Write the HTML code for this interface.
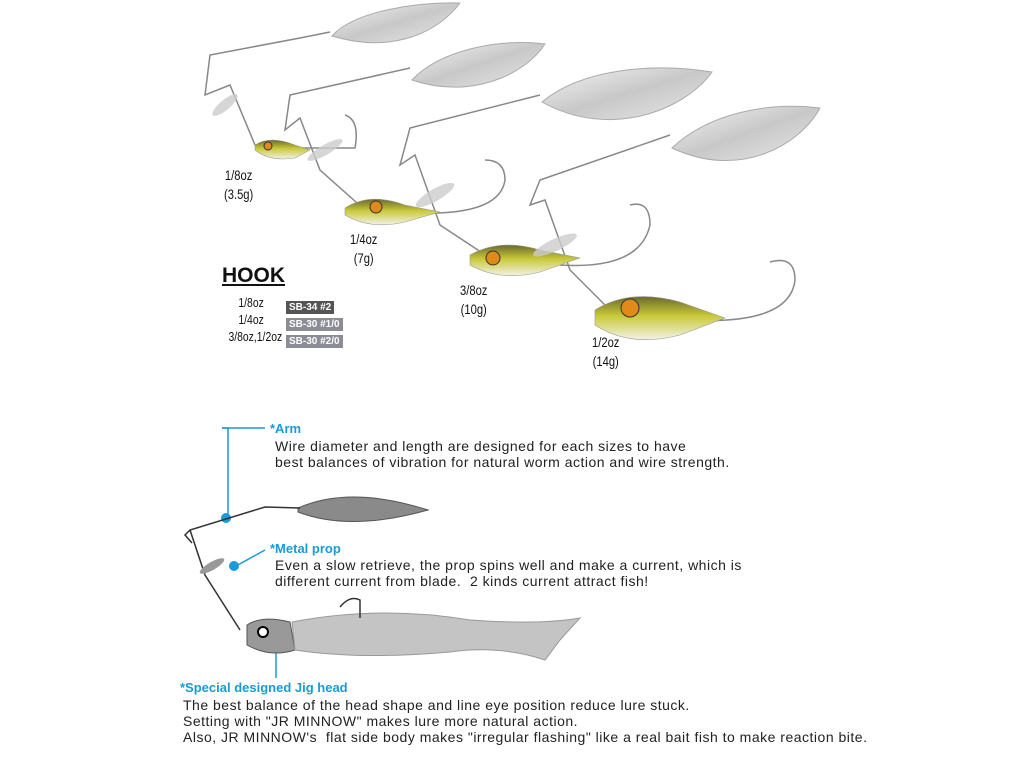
<!DOCTYPE html>
<html><head><meta charset="utf-8"><style>
html,body{margin:0;padding:0;background:#fff}
body{width:1024px;height:768px;overflow:hidden;position:relative;font-family:"Liberation Sans",sans-serif}
.t{position:absolute;font-size:14px;letter-spacing:.5px;color:#222;line-height:16px;white-space:nowrap}
.b{position:absolute;font-size:13px;color:#1a9ad6;font-weight:bold;white-space:nowrap}
.w{position:absolute;font-size:14px;color:#111;line-height:19px;text-align:center;transform:scaleX(.8);transform-origin:left top}
.tag{display:inline-block;color:#fff;font-size:10px;font-weight:bold;padding:0 3px;line-height:13px}
.hl{position:absolute;font-size:13px;color:#111;transform:scaleX(.8);transform-origin:right top;text-align:right;white-space:nowrap}
</style></head><body>
<svg width="1024" height="768" style="position:absolute;left:0;top:0">
<defs>
<linearGradient id="s" x1="0" y1="0" x2="1" y2="1"><stop offset="0" stop-color="#f4f4f4"/><stop offset=".5" stop-color="#c8c8c8"/><stop offset="1" stop-color="#e8e8e8"/></linearGradient>
<linearGradient id="y" x1="0" y1="0" x2="0" y2="1"><stop offset="0" stop-color="#6b6a2a"/><stop offset=".45" stop-color="#c9c93a"/><stop offset="1" stop-color="#f2f2e6"/></linearGradient>
</defs>
<g fill="url(#s)" stroke="#aaa" stroke-width="1">
<path d="M332 36 C355 10 420 2 460 3 C440 30 395 55 332 36 Z"/>
<path d="M412 80 C440 50 500 38 545 44 C525 75 470 100 412 80 Z"/>
<path d="M542 102 C580 70 650 62 712 72 C685 110 610 140 542 102 Z"/>
<path d="M672 148 C710 112 770 102 820 108 C800 145 740 180 672 148 Z"/>
</g>
<g fill="none" stroke="#888" stroke-width="1.5">
<path d="M330 32 L300 38 L210 55 L205 95 L230 85 L255 145"/>
<path d="M410 68 L290 95 L285 130 L300 118 L320 170 L365 210"/>
<path d="M540 95 L410 128 L400 165 L415 155 L440 225 L490 258"/>
<path d="M670 135 L540 180 L530 205 L545 200 L570 270 L610 310"/>
<path d="M300 148 L355 148 Q360 120 345 115"/>
<path d="M420 213 Q500 215 505 180 Q505 160 485 160"/>
<path d="M560 265 Q640 270 650 225 Q650 200 630 205"/>
<path d="M690 320 Q790 325 795 280 Q795 255 770 262"/>
</g>
<g fill="url(#y)" stroke="#999" stroke-width=".6">
<path d="M255 145 Q270 135 295 145 L310 150 L295 158 Q270 162 255 150 Z"/>
<path d="M345 208 Q370 192 405 205 L440 212 L405 222 Q370 230 345 215 Z"/>
<path d="M470 255 Q500 238 540 250 L580 258 L540 272 Q500 282 470 265 Z"/>
<path d="M595 310 Q630 288 680 302 L725 318 L680 335 Q630 348 595 325 Z"/>
</g>
<g fill="#e08a1a" stroke="#333"><circle cx="268" cy="146" r="4"/><circle cx="376" cy="207" r="6"/><circle cx="493" cy="258" r="7"/><circle cx="630" cy="308" r="9"/></g>
<g fill="#ccc" opacity=".8"><ellipse cx="225" cy="105" rx="16" ry="5" transform="rotate(-40 225 105)"/><ellipse cx="325" cy="150" rx="20" ry="5" transform="rotate(-30 325 150)"/><ellipse cx="435" cy="195" rx="22" ry="6" transform="rotate(-30 435 195)"/><ellipse cx="555" cy="245" rx="24" ry="6" transform="rotate(-25 555 245)"/></g>
<path d="M222 428 H228 V520" fill="none" stroke="#1a9ad6" stroke-width="1.5"/>
<path d="M222 428 L265 428" stroke="#1a9ad6" stroke-width="1.5"/>
<circle cx="226" cy="518" r="5" fill="#1a9ad6"/>
<path d="M236 566 L265 550" stroke="#1a9ad6" stroke-width="1.5"/>
<circle cx="234" cy="566" r="5" fill="#1a9ad6"/>
<path d="M276 632 V678" stroke="#1a9ad6" stroke-width="1.5"/>
<circle cx="276" cy="639" r="5" fill="#1a9ad6"/>
<path d="M298 508 Q350 485 428 510 Q350 532 298 512 Z" fill="#8a8a8a" stroke="#555"/>
<path d="M192 543 L185 535 L190 530 L265 507 L300 508" fill="none" stroke="#333" stroke-width="1.5"/>
<path d="M190 530 L205 575 L240 630" fill="none" stroke="#333" stroke-width="1.5"/>
<ellipse cx="212" cy="566" rx="14" ry="4" fill="#999" transform="rotate(-30 212 566)"/>
<path d="M247 625 Q262 615 290 622 L295 650 Q270 658 247 645 Z" fill="#999" stroke="#555"/>
<circle cx="263" cy="632" r="5" fill="#fff" stroke="#000" stroke-width="2"/>
<path d="M292 622 Q380 605 470 620 Q540 625 580 618 L560 640 L545 660 Q500 645 450 652 Q360 660 295 650 Z" fill="#c4c4c4" stroke="#999"/>
<path d="M340 607 Q350 595 360 600 V618" fill="none" stroke="#333" stroke-width="1.5"/>
</svg>
<div class="w" style="left:224px;top:166px">1/8oz<br>(3.5g)</div>
<div class="w" style="left:350px;top:230px">1/4oz<br>(7g)</div>
<div class="w" style="left:460px;top:281px">3/8oz<br>(10g)</div>
<div class="w" style="left:592px;top:333px">1/2oz<br>(14g)</div>
<div style="position:absolute;left:222px;top:264px;font-size:21px;font-weight:bold;text-decoration:underline;color:#111">HOOK</div>
<div class="hl" style="right:760px;top:295px">1/8oz</div>
<div class="hl" style="right:760px;top:312px">1/4oz</div>
<div class="hl" style="right:742px;top:329px">3/8oz,1/2oz</div>
<div style="position:absolute;left:286px;top:297px"><span class="tag" style="background:#555">SB-34 #2</span></div>
<div style="position:absolute;left:286px;top:314px"><span class="tag" style="background:#8c8c96">SB-30 #1/0</span></div>
<div style="position:absolute;left:286px;top:331px"><span class="tag" style="background:#8c8c96">SB-30 #2/0</span></div>
<div class="b" style="left:270px;top:421px">*Arm</div>
<div class="t" style="left:275px;top:438px">Wire diameter and length are designed for each sizes to have<br>best balances of vibration for natural worm action and wire strength.</div>
<div class="b" style="left:270px;top:541px">*Metal prop</div>
<div class="t" style="left:275px;top:557px">Even a slow retrieve, the prop spins well and make a current, which is<br>different current from blade.&nbsp; 2 kinds current attract fish!</div>
<div class="b" style="left:180px;top:680px">*Special designed Jig head</div>
<div class="t" style="left:183px;top:697px">The best balance of the head shape and line eye position reduce lure stuck.<br>Setting with "JR MINNOW" makes lure more natural action.<br>Also, JR MINNOW's&nbsp; flat side body makes "irregular flashing" like a real bait fish to make reaction bite.</div>
</body></html>
